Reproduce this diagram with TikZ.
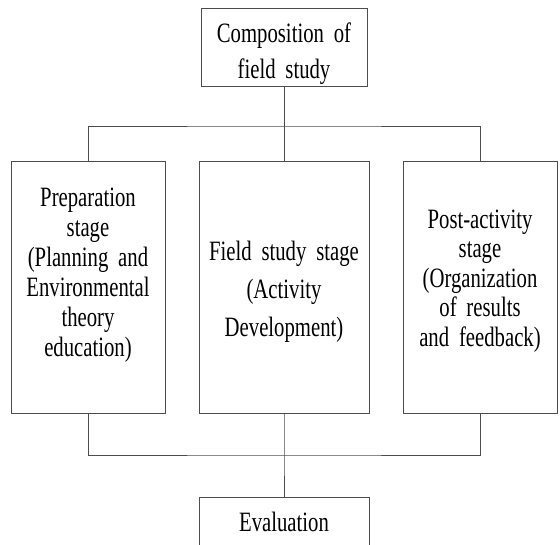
\documentclass[tikz,border=0pt]{standalone}
\usepackage{fontspec}
\setmainfont{Liberation Serif}[FakeStretch=0.74,WordSpace=1.9]
\tikzset{
    box/.style={draw=black!70,rectangle,inner sep=0,anchor=center},
    txt/.style={align=center,inner sep=0,anchor=center,font=\fontsize{28}{#1}\selectfont}
}
\begin{document}
\begin{tikzpicture}[x=1pt,y=-1pt,line width=0.8pt,draw=black!70]
    \useasboundingbox (0,0) rectangle (560,544);
    % boxes
    \node[box,minimum width=166pt,minimum height=78pt] (comp) at (284,47) {};
    \node[box,minimum width=154pt,minimum height=252pt] (prep) at (88,287) {};
    \node[box,minimum width=170pt,minimum height=252pt] (field) at (284,287) {};
    \node[box,minimum width=154pt,minimum height=252pt] (post) at (480,287) {};
    \node[box,minimum width=170pt,minimum height=54pt] (eval) at (284,524) {};
    % texts
    \node[txt=36pt] (comptext) at (284,54) {Composition of\\field study};
    \node[txt=30pt] (preptext) at (88,275) {Preparation\\stage\\(Planning and\\Environmental\\theory\\education)};
    \node[txt=38pt] (fieldtext) at (284,292) {Field study stage\\(Activity\\Development)};
    \node[txt=29.5pt] (posttext) at (480,281) {Post-activity\\stage\\(Organization\\of results\\and feedback)};
    \node[txt=30pt] (evaltext) at (284,522) {Evaluation};
    % connectors
    \coordinate (split) at (284,126);
    \coordinate (join) at (284,455);
    \draw (comp.south) -- (split);
    \draw (prep.north) |- (split) -| (post.north);
    \draw (split) -- (field.north);
    \draw (prep.south) |- (join) -| (post.south);
    \draw (field.south) -- (join) -- (eval.north);
\end{tikzpicture}
\end{document}
